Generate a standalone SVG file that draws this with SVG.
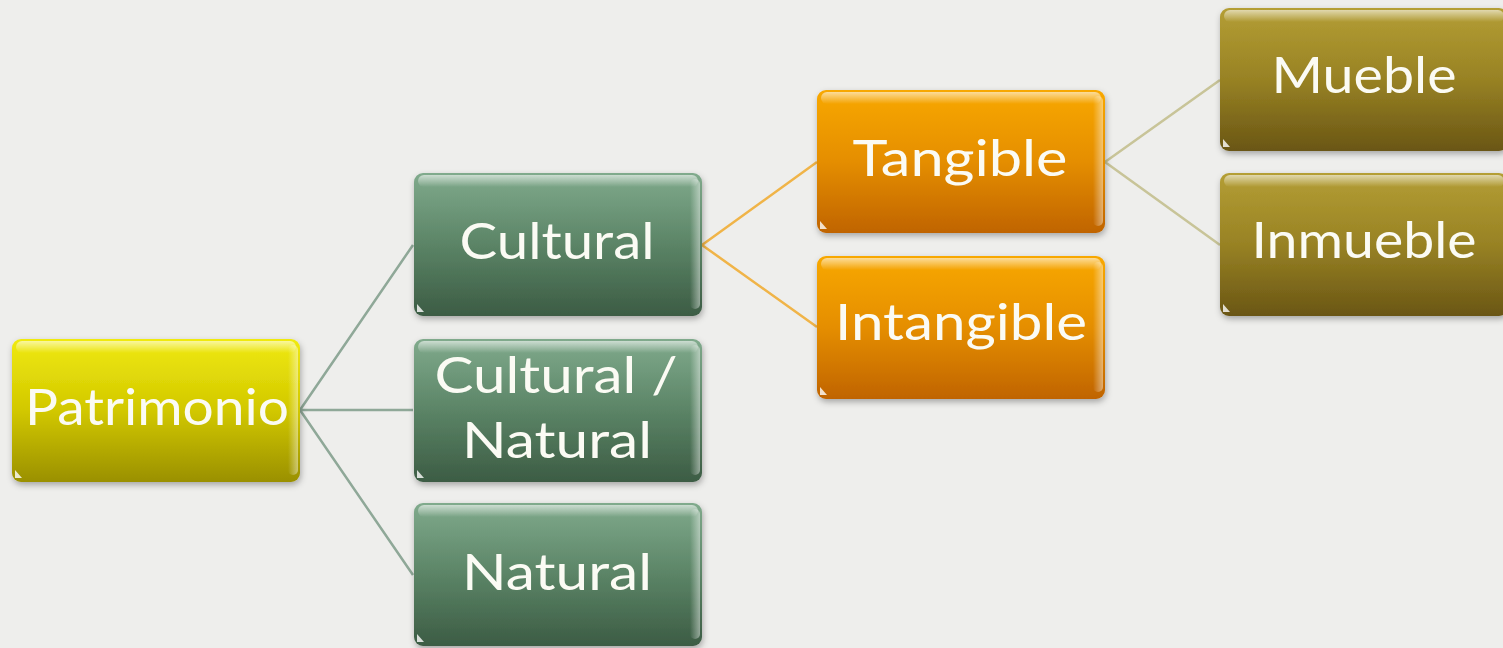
<svg xmlns="http://www.w3.org/2000/svg" width="1503" height="648" viewBox="0 0 1503 648">
<defs>
<linearGradient id="gY" x1="0" y1="0" x2="0" y2="1"><stop offset="0" stop-color="#f0ea10"/><stop offset="0.5" stop-color="#d2c800"/><stop offset="1" stop-color="#9a9000"/></linearGradient>
<linearGradient id="gG" x1="0" y1="0" x2="0" y2="1"><stop offset="0" stop-color="#80aa8c"/><stop offset="0.5" stop-color="#5b8466"/><stop offset="1" stop-color="#3c5c44"/></linearGradient>
<linearGradient id="gO" x1="0" y1="0" x2="0" y2="1"><stop offset="0" stop-color="#f8a800"/><stop offset="0.5" stop-color="#e58e00"/><stop offset="1" stop-color="#c06400"/></linearGradient>
<linearGradient id="gK" x1="0" y1="0" x2="0" y2="1"><stop offset="0" stop-color="#b49e34"/><stop offset="0.5" stop-color="#988224"/><stop offset="1" stop-color="#6a5614"/></linearGradient>
<linearGradient id="hl" x1="0" y1="0" x2="0" y2="1"><stop offset="0" stop-color="#ffffff" stop-opacity="0.6"/><stop offset="1" stop-color="#ffffff" stop-opacity="0"/></linearGradient>
<linearGradient id="hr" x1="0" y1="0" x2="1" y2="0"><stop offset="0" stop-color="#ffffff" stop-opacity="0"/><stop offset="1" stop-color="#ffffff" stop-opacity="0.45"/></linearGradient>
<filter id="sh" x="-10%" y="-10%" width="120%" height="130%"><feDropShadow dx="1" dy="3" stdDeviation="3" flood-color="#000" flood-opacity="0.3"/></filter>
</defs>
<style>
.box{filter:url(#sh)}
.t{font-family:Lato,"Liberation Sans",sans-serif;font-size:50px;fill:#fbfbf4;text-anchor:middle}
.c{fill:none;stroke-width:2.5}
</style>
<rect width="1503" height="648" fill="#eeeeec"/>
<g id="connectors">
<path class="c" stroke="#8fa898" d="M300 410 L413 245 M300 410 L413 410 M300 410 L413 575"/>
<path class="c" stroke="#f0b448" d="M702 245 L817 162 M702 245 L817 327"/>
<path class="c" stroke="#c8c498" d="M1105 162 L1220 80 M1105 162 L1220 245"/>
</g>
<g id="n-patrimonio">
<rect class="box" x="12" y="339" width="288" height="143" rx="9" fill="url(#gY)"/>
<rect x="16" y="341" width="280" height="12" rx="6" fill="url(#hl)"/>
<rect x="288" y="345" width="10" height="130" rx="5" fill="url(#hr)"/>
<path d="M15 478 L15 470 L22 478 Z" fill="#fff" opacity="0.8"/>
<text class="t" x="157" y="425" textLength="264" lengthAdjust="spacingAndGlyphs">Patrimonio</text>
</g>
<g id="n-cultural">
<rect class="box" x="414" y="173" width="288" height="143" rx="9" fill="url(#gG)"/>
<rect x="418" y="175" width="280" height="12" rx="6" fill="url(#hl)"/>
<rect x="690" y="179" width="10" height="130" rx="5" fill="url(#hr)"/>
<path d="M417 312 L417 304 L424 312 Z" fill="#fff" opacity="0.8"/>
<text class="t" x="557" y="259" textLength="195" lengthAdjust="spacingAndGlyphs">Cultural</text>
</g>
<g id="n-cultural-natural">
<rect class="box" x="414" y="339" width="288" height="143" rx="9" fill="url(#gG)"/>
<rect x="418" y="341" width="280" height="12" rx="6" fill="url(#hl)"/>
<rect x="690" y="345" width="10" height="130" rx="5" fill="url(#hr)"/>
<path d="M417 478 L417 470 L424 478 Z" fill="#fff" opacity="0.8"/>
<text class="t" x="556" y="393" textLength="243" lengthAdjust="spacingAndGlyphs">Cultural /</text>
<text class="t" x="557" y="458" textLength="190" lengthAdjust="spacingAndGlyphs">Natural</text>
</g>
<g id="n-natural">
<rect class="box" x="414" y="503" width="288" height="143" rx="9" fill="url(#gG)"/>
<rect x="418" y="505" width="280" height="12" rx="6" fill="url(#hl)"/>
<rect x="690" y="509" width="10" height="130" rx="5" fill="url(#hr)"/>
<path d="M417 642 L417 634 L424 642 Z" fill="#fff" opacity="0.8"/>
<text class="t" x="557" y="590" textLength="190" lengthAdjust="spacingAndGlyphs">Natural</text>
</g>
<g id="n-tangible">
<rect class="box" x="817" y="90" width="288" height="143" rx="9" fill="url(#gO)"/>
<rect x="821" y="92" width="280" height="12" rx="6" fill="url(#hl)"/>
<rect x="1093" y="96" width="10" height="130" rx="5" fill="url(#hr)"/>
<path d="M820 229 L820 221 L827 229 Z" fill="#fff" opacity="0.8"/>
<text class="t" x="960" y="176" textLength="215" lengthAdjust="spacingAndGlyphs">Tangible</text>
</g>
<g id="n-intangible">
<rect class="box" x="817" y="256" width="288" height="143" rx="9" fill="url(#gO)"/>
<rect x="821" y="258" width="280" height="12" rx="6" fill="url(#hl)"/>
<rect x="1093" y="262" width="10" height="130" rx="5" fill="url(#hr)"/>
<path d="M820 395 L820 387 L827 395 Z" fill="#fff" opacity="0.8"/>
<text class="t" x="961" y="340" textLength="252" lengthAdjust="spacingAndGlyphs">Intangible</text>
</g>
<g id="n-mueble">
<rect class="box" x="1220" y="8" width="288" height="143" rx="9" fill="url(#gK)"/>
<rect x="1224" y="10" width="280" height="12" rx="6" fill="url(#hl)"/>
<path d="M1223 147 L1223 139 L1230 147 Z" fill="#fff" opacity="0.8"/>
<text class="t" x="1364" y="93" textLength="185" lengthAdjust="spacingAndGlyphs">Mueble</text>
</g>
<g id="n-inmueble">
<rect class="box" x="1220" y="173" width="288" height="143" rx="9" fill="url(#gK)"/>
<rect x="1224" y="175" width="280" height="12" rx="6" fill="url(#hl)"/>
<path d="M1223 312 L1223 304 L1230 312 Z" fill="#fff" opacity="0.8"/>
<text class="t" x="1364" y="258" textLength="225" lengthAdjust="spacingAndGlyphs">Inmueble</text>
</g>
</svg>
